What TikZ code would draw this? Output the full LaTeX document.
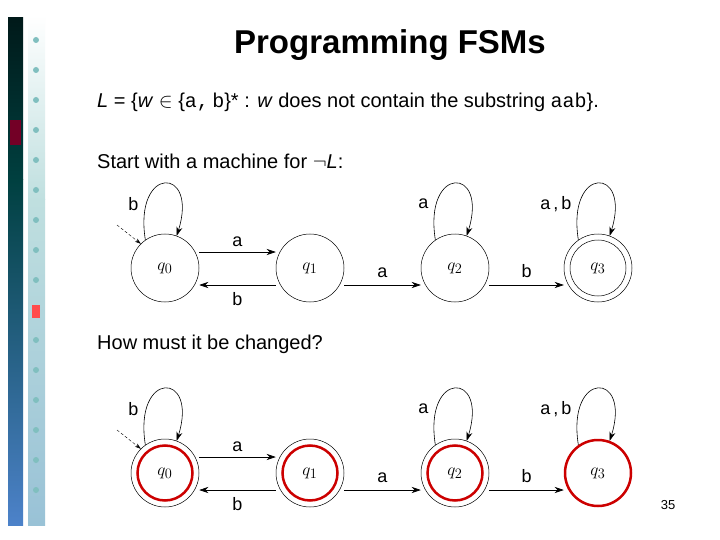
\documentclass[tikz,border=0pt]{standalone}
\usepackage{fontspec}
\setmainfont{Liberation Sans}
\newfontfamily\monofont{Liberation Mono}
\usetikzlibrary{arrows.meta}
\begin{document}
\begin{tikzpicture}[x=1pt,y=-1pt,
  st/.style={circle,draw,line width=0.5pt,minimum size=68pt,inner sep=0pt,font=\fontsize{19}{19}\selectfont},
  inner/.style={circle,draw,line width=0.5pt,minimum size=56pt,inner sep=0pt},
  red/.style={circle,draw=red!80!black,line width=2.5pt,minimum size=55pt,inner sep=0pt},
  tr/.style={-{Stealth[length=9pt,width=6pt]},line width=0.6pt},
  lb/.style={font=\fontsize{18}{18}\selectfont},
  txt/.style={font=\fontsize{20}{24}\selectfont,anchor=west,inner sep=0pt}]
\useasboundingbox (0,0) rectangle (720,540);
\fill[white] (0,0) rectangle (720,540);
% decorative strips
\shade[top color=black!80!teal,bottom color=teal!50!black] (8,18) rectangle (23,180);
\shade[top color=teal!50!black,bottom color=blue!40!teal!70] (8,180) rectangle (23,525);
\fill[purple!60!black] (10,120) rectangle (21,145);
\shade[top color=white,bottom color=teal!25] (28,15) rectangle (45,200);
\shade[top color=teal!25,bottom color=blue!20!teal!40] (28,200) rectangle (45,525);
\foreach \y in {40,70,100,130,160,190,220,250,280,310,340,370,400,430,460,490}{\fill[teal!50] (36,\y) circle (3);}
\fill[red!70] (32,305) rectangle (40,318);
% text
\node[font=\bfseries\fontsize{33}{33}\selectfont] (title) at (390,45) {Programming FSMs};
\node[txt] (lang) at (97,102) {\textit{L} = \{\textit{w} $\in$ \{{\monofont a,\,b}\}* : \textit{w} does not contain the substring {\monofont aab}\}.};
\node[txt] (start) at (97,161) {Start with a machine for $\neg$\textit{L}:};
\node[txt] (how) at (97,344) {How must it be changed?};
\node[font=\fontsize{13}{13}\selectfont] (pg) at (668,505) {35};
% top machine
\node[st] (a0) at (165,268) {$q_0$};
\node[st] (a1) at (310,268) {$q_1$};
\node[st] (a2) at (455,268) {$q_2$};
\node[st] (a3) at (598,268) {$q_3$};
\node[inner] (a3i) at (598,268) {};
\draw[tr] (a0.east |- 0,252) -- node[lb,above=2pt]{a} (a1.west |- 0,252);
\draw[tr] (a1.west |- 0,285) -- node[lb,below=4pt]{b} (a0.east |- 0,285);
\draw[tr] (a1.east |- 0,285) -- node[lb,above=4pt]{a} (a2.west |- 0,285);
\draw[tr] (a2.east |- 0,285) -- node[lb,above=4pt]{b} (a3.west |- 0,285);
\draw[tr] (a0.125) .. controls +(-12,-75) and +(22,-70) .. node[lb,pos=0.2,left=4pt]{b} (a0.70);
\draw[tr] (a2.125) .. controls +(-12,-75) and +(22,-70) .. node[lb,pos=0.2,left=4pt]{a} (a2.70);
\draw[tr] (a3.125) .. controls +(-12,-75) and +(22,-70) .. node[lb,pos=0.2,left=4pt]{a\,,\,b} (a3.70);
\coordinate (s0) at (117,225);
\draw[densely dashed,-{Stealth[length=6pt,width=4pt]},line width=0.4pt] (s0) -- (a0.135);
% bottom machine
\node[st] (b0) at (165,473) {$q_0$};
\node[st] (b1) at (310,473) {$q_1$};
\node[st] (b2) at (455,473) {$q_2$};
\node[st,draw=none] (b3) at (598,473) {$q_3$};
\node[red] (b0r) at (165,473) {};
\node[red] (b1r) at (310,473) {};
\node[red] (b2r) at (455,473) {};
\node[red,minimum size=66pt] (b3r) at (598,473) {};
\draw[tr] (b0.east |- 0,457) -- node[lb,above=2pt]{a} (b1.west |- 0,457);
\draw[tr] (b1.west |- 0,490) -- node[lb,below=4pt]{b} (b0.east |- 0,490);
\draw[tr] (b1.east |- 0,490) -- node[lb,above=4pt]{a} (b2.west |- 0,490);
\draw[tr] (b2.east |- 0,490) -- node[lb,above=4pt]{b} (b3.west |- 0,490);
\draw[tr] (b0.125) .. controls +(-12,-75) and +(22,-70) .. node[lb,pos=0.2,left=4pt]{b} (b0.70);
\draw[tr] (b2.125) .. controls +(-12,-75) and +(22,-70) .. node[lb,pos=0.2,left=4pt]{a} (b2.70);
\draw[tr] (b3.125) .. controls +(-12,-75) and +(22,-70) .. node[lb,pos=0.2,left=4pt]{a\,,\,b} (b3.70);
\coordinate (s1) at (117,430);
\draw[densely dashed,-{Stealth[length=6pt,width=4pt]},line width=0.4pt] (s1) -- (b0.135);
\end{tikzpicture}
\end{document}
